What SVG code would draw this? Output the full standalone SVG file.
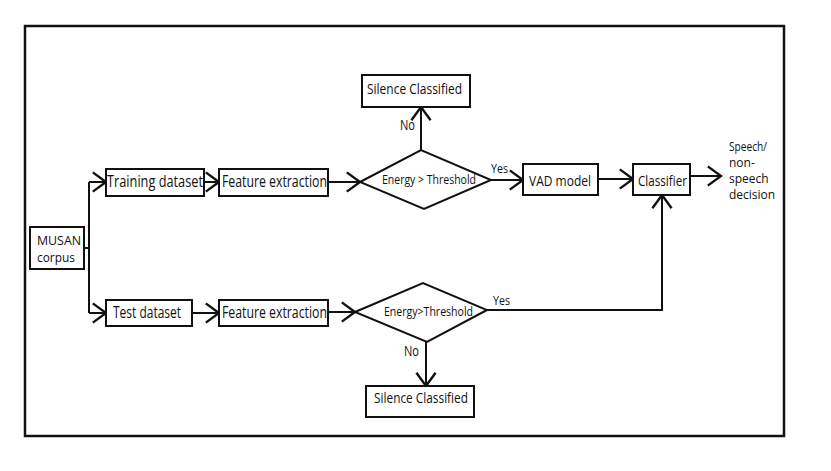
<svg xmlns="http://www.w3.org/2000/svg" width="831" height="471" viewBox="0 0 831 471">
<style>
.box{fill:#fff;stroke:#111;stroke-width:2}
.dia{fill:#fff;stroke:#111;stroke-width:2;stroke-linejoin:miter}
.ln{fill:none;stroke:#111;stroke-width:2}
text{font-family:"Open Sans","Noto Sans","Liberation Sans",sans-serif;fill:#111}
.t{font-size:16.5px}
.v{font-size:14.5px}
.c{font-size:15px}
.s{font-size:12.5px}
.m{font-size:12.5px}
.n{font-size:14px}
.y{font-size:12.5px}
.o{font-size:12px}
</style>
<defs>
<marker id="ah" markerUnits="userSpaceOnUse" markerWidth="24" markerHeight="24" viewBox="-13 -10 16 20" refX="0" refY="0" orient="auto">
<path d="M-11,-8 L0,0 L-11,8" fill="none" stroke="#111" stroke-width="2"/>
</marker>
</defs>
<rect x="25" y="26" width="759" height="410" fill="none" stroke="#111" stroke-width="2.5"/>
<g id="connectors">
<path class="ln" d="M84,248 H89 M89,182 V313"/>
<path class="ln" d="M89,182 H106" marker-end="url(#ah)"/>
<path class="ln" d="M89,313 H106" marker-end="url(#ah)"/>
<path class="ln" d="M204,182 H219" marker-end="url(#ah)"/>
<path class="ln" d="M328,182 H360" marker-end="url(#ah)"/>
<path class="ln" d="M421,150 V107" marker-end="url(#ah)"/>
<path class="ln" d="M491,180 H523" marker-end="url(#ah)"/>
<path class="ln" d="M598,179 H633" marker-end="url(#ah)"/>
<path class="ln" d="M690,176 H721" marker-end="url(#ah)"/>
<path class="ln" d="M192,313 H219" marker-end="url(#ah)"/>
<path class="ln" d="M328,312 H355" marker-end="url(#ah)"/>
<path class="ln" d="M487,310 H662 V195" marker-end="url(#ah)"/>
<path class="ln" d="M426,342 V386" marker-end="url(#ah)"/>
<text class="n" x="400" y="130" textLength="15" lengthAdjust="spacingAndGlyphs">No</text>
<text class="y" x="491" y="173" textLength="17" lengthAdjust="spacingAndGlyphs">Yes</text>
<text class="y" x="493" y="305" textLength="17" lengthAdjust="spacingAndGlyphs">Yes</text>
<text class="n" x="404" y="356" textLength="15" lengthAdjust="spacingAndGlyphs">No</text>
</g>
<g id="musan">
<rect class="box" x="30" y="227" width="54" height="42"/>
<text class="m" x="37" y="245" textLength="44" lengthAdjust="spacingAndGlyphs">MUSAN</text>
<text class="m" x="37" y="262" textLength="38" lengthAdjust="spacingAndGlyphs">corpus</text>
</g>
<g id="training">
<rect class="box" x="106" y="169" width="98" height="27"/>
<text class="t" x="107" y="187" textLength="96" lengthAdjust="spacingAndGlyphs">Training dataset</text>
</g>
<g id="feature1">
<rect class="box" x="219" y="169" width="109" height="27"/>
<text class="t" x="222" y="187" textLength="105" lengthAdjust="spacingAndGlyphs">Feature extraction</text>
</g>
<g id="test">
<rect class="box" x="106" y="300" width="86" height="26"/>
<text class="t" x="113" y="318" textLength="68" lengthAdjust="spacingAndGlyphs">Test dataset</text>
</g>
<g id="feature2">
<rect class="box" x="219" y="300" width="109" height="26"/>
<text class="t" x="222" y="318" textLength="105" lengthAdjust="spacingAndGlyphs">Feature extraction</text>
</g>
<g id="decision1">
<polygon class="dia" points="360,182 421,150 491,180 424,209"/>
<text class="s" x="382" y="184" textLength="94" lengthAdjust="spacingAndGlyphs">Energy &gt; Threshold</text>
</g>
<g id="silence1">
<rect class="box" x="362" y="75" width="108" height="32"/>
<text class="c" x="367" y="94" textLength="95" lengthAdjust="spacingAndGlyphs">Silence Classified</text>
</g>
<g id="vad">
<rect class="box" x="523" y="164" width="75" height="31"/>
<text class="v" x="529" y="186" textLength="62" lengthAdjust="spacingAndGlyphs">VAD model</text>
</g>
<g id="classifier">
<rect class="box" x="633" y="164" width="57" height="31"/>
<text class="v" x="638" y="186" textLength="49" lengthAdjust="spacingAndGlyphs">Classifier</text>
</g>
<g id="output">
<text class="o" x="729" y="151" textLength="38" lengthAdjust="spacingAndGlyphs">Speech/</text>
<text class="o" x="729" y="167">non-</text>
<text class="o" x="729" y="183">speech</text>
<text class="o" x="729" y="199">decision</text>
</g>
<g id="decision2">
<polygon class="dia" points="355,312 423,283 487,310 427,342"/>
<text class="s" x="384" y="316" textLength="89" lengthAdjust="spacingAndGlyphs">Energy&gt;Threshold</text>
</g>
<g id="silence2">
<rect class="box" x="366" y="386" width="108" height="31"/>
<text class="c" x="374" y="403" textLength="94" lengthAdjust="spacingAndGlyphs">Silence Classified</text>
</g>
</svg>
